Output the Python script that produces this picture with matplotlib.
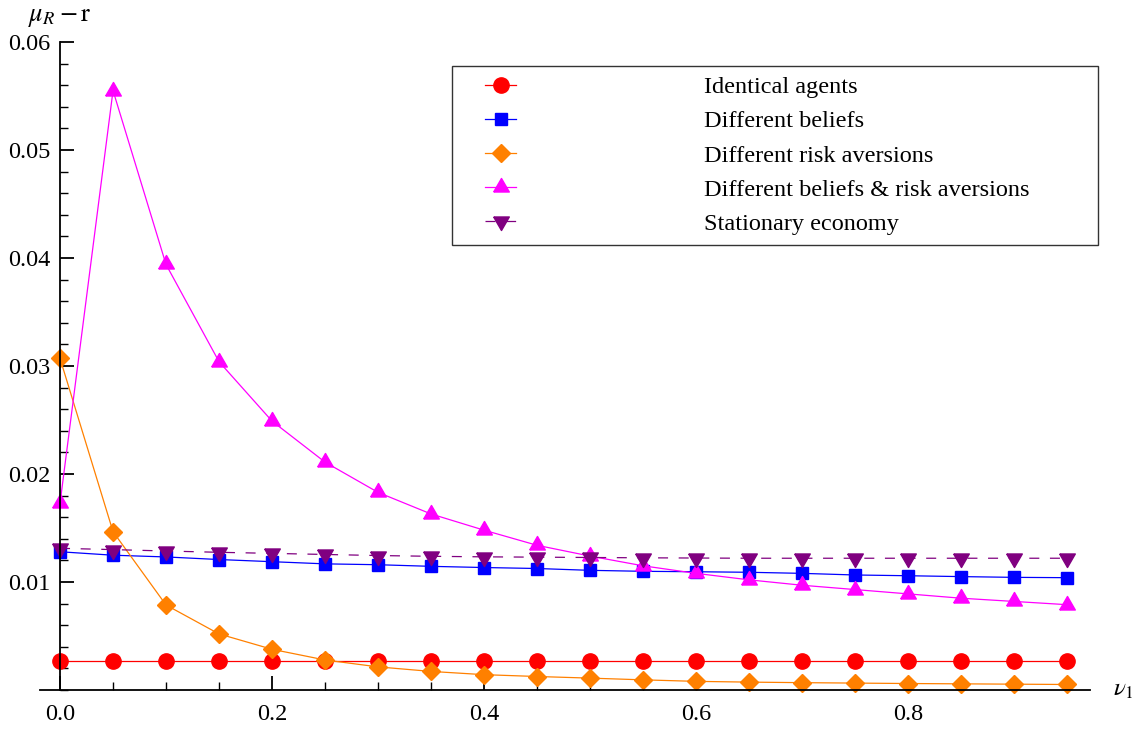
import matplotlib
matplotlib.use("Agg")
import matplotlib.pyplot as plt
from matplotlib.legend_handler import HandlerLine2D
from matplotlib.ticker import MultipleLocator, FixedLocator, FuncFormatter

plt.rcParams['font.family'] = ['Liberation Serif', 'DejaVu Serif']
plt.rcParams['mathtext.fontset'] = 'stix'

# ---- data ----
nu1 = [0.00, 0.05, 0.10, 0.15, 0.20, 0.25, 0.30, 0.35, 0.40, 0.45,
       0.50, 0.55, 0.60, 0.65, 0.70, 0.75, 0.80, 0.85, 0.90, 0.95]
identical = [0.0027, 0.0027, 0.0027, 0.0027, 0.0027, 0.0027, 0.0027, 0.0027, 0.0027, 0.0027,
             0.0027, 0.0027, 0.0027, 0.0027, 0.0027, 0.0027, 0.0027, 0.0027, 0.0027, 0.0027]
beliefs = [0.0128, 0.01248, 0.01232, 0.01208, 0.01188, 0.01168, 0.0116, 0.01145, 0.01134, 0.01125,
           0.01108, 0.01099, 0.01095, 0.0109, 0.0108, 0.01065, 0.01058, 0.0105, 0.01043, 0.0104]
risk = [0.0307, 0.01466, 0.00787, 0.00519, 0.00377, 0.00278, 0.00214, 0.00172, 0.00142, 0.00125,
        0.0011, 0.00094, 0.0008, 0.00073, 0.00068, 0.00064, 0.0006, 0.00057, 0.00054, 0.00051]
beliefs_risk = [0.0173, 0.0555, 0.0394, 0.0304, 0.0249, 0.0211, 0.0183, 0.0163, 0.0148, 0.0134,
                0.0124, 0.0115, 0.0108, 0.0102, 0.0097, 0.0093, 0.0089, 0.0085, 0.0082, 0.0079]
stationary = [0.01312, 0.0130, 0.01287, 0.01275, 0.01265, 0.01255, 0.01245, 0.01238, 0.01233, 0.0123,
              0.01227, 0.01224, 0.01222, 0.0122, 0.0122, 0.0122, 0.0122, 0.0122, 0.0122, 0.0122]
labels = ["Identical agents", "Different beliefs", "Different risk aversions",
          "Different beliefs & risk aversions", "Stationary economy"]
x_major = [0.0, 0.2, 0.4, 0.6, 0.8]
y_major = [0.01, 0.02, 0.03, 0.04, 0.05, 0.06]

# equilateral triangles centred on their centroid
h = 0.866
tri_up = [(-0.5, -h / 3), (0.5, -h / 3), (0.0, 2 * h / 3), (-0.5, -h / 3)]
tri_down = [(-0.5, h / 3), (0.5, h / 3), (0.0, -2 * h / 3), (-0.5, h / 3)]

W, H = 1137, 729
fig = plt.figure(figsize=(W / 100, H / 100), dpi=100)
ax = fig.add_axes([40 / W, 1 - 690 / H, (1090 - 40) / W, (690 - 42) / H])

lw = 0.9
l1, = ax.plot(nu1, identical, color='#FF0000', lw=lw, marker='o', ms=11, clip_on=False)
l2, = ax.plot(nu1, beliefs, color='#0000FF', lw=lw, marker='s', ms=9.3, clip_on=False)
l3, = ax.plot(nu1, risk, color='#FF8000', lw=lw, marker='D', ms=9.2, clip_on=False)
l4, = ax.plot(nu1, beliefs_risk, color='#FF00FF', lw=lw, marker=tri_up, ms=13, clip_on=False)
l5, = ax.plot(nu1, stationary, color='#800080', lw=lw, marker=tri_down, ms=13,
              ls=(0, (8, 8.5)), clip_on=False)

ax.set_xlim(-0.0189, 0.9717)
ax.set_ylim(0, 0.06)

for s in ['top', 'right']:
    ax.spines[s].set_visible(False)
ax.spines['left'].set_position(('data', 0))
ax.spines['left'].set_bounds(0, 0.06)
for s in ['left', 'bottom']:
    ax.spines[s].set_linewidth(1.3)
    ax.spines[s].set_color('black')

ax.xaxis.set_major_locator(FixedLocator(x_major))
ax.xaxis.set_minor_locator(MultipleLocator(0.05))
ax.xaxis.set_major_formatter(FuncFormatter(lambda v, p: f"{v:.1f}"))
ax.yaxis.set_major_locator(FixedLocator(y_major))
ax.yaxis.set_minor_locator(MultipleLocator(0.002))
ax.yaxis.set_major_formatter(FuncFormatter(lambda v, p: f"{v:.2f}"))
ax.tick_params(which='major', direction='in', length=10, width=1.3, labelsize=17.5, pad=7)
ax.tick_params(which='minor', direction='in', length=6, width=1.0)
ax.tick_params(axis='x', which='major', pad=10)

ax.text(0.9934, 0.0, r"$\nu_1$", ha='left', va='center', fontsize=18, clip_on=False)
fig.text(28 / W, 1 - 18 / H, r"$\mu_R - \mathrm{r}$", ha='left', va='center', fontsize=19)

fs = 17.5
fs_px = fs * 100 / 72
handler = HandlerLine2D(xpad=(485 - 462) / fs_px)
leg = ax.legend([l1, l2, l3, l4, l5], labels, loc='upper left',
                bbox_to_anchor=(452 / W, 1 - 66 / H, 646 / W, 0.0),
                bbox_transform=fig.transFigure, mode='expand',
                fontsize=fs, numpoints=1, handlelength=(516 - 462) / fs_px,
                handletextpad=(704 - 516) / fs_px, borderpad=0.42, borderaxespad=0,
                labelspacing=0.5, fancybox=False, framealpha=1, edgecolor='#333333',
                handler_map={l: handler for l in [l1, l2, l3, l4, l5]})
leg.get_frame().set_linewidth(1.0)

fig.savefig("out.png", dpi=100)
